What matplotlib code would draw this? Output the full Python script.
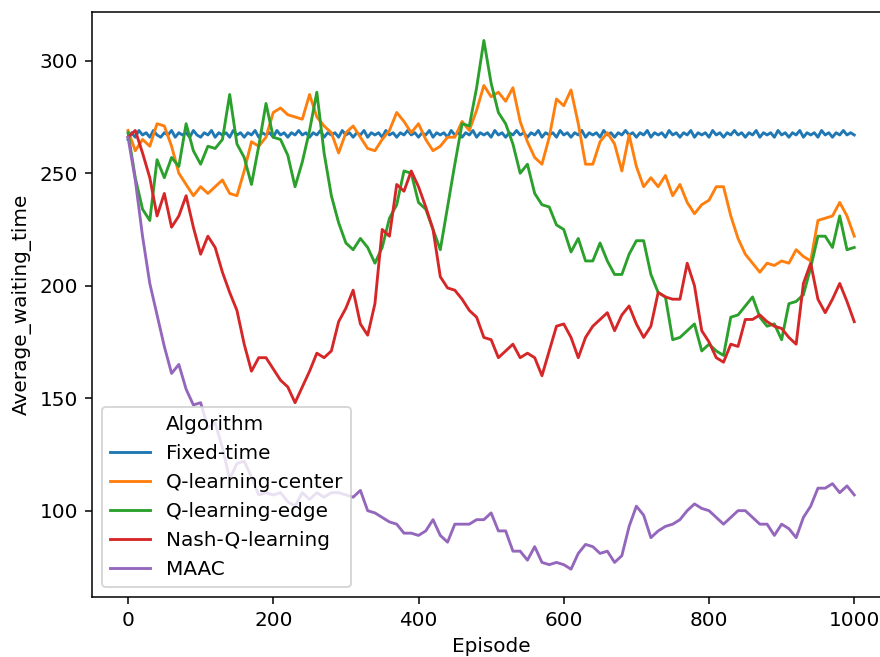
"""Average waiting time per episode for five signal-control algorithms."""
import numpy as np
import matplotlib
matplotlib.use("Agg")
import matplotlib.pyplot as plt
from matplotlib.lines import Line2D

plt.rcParams["font.size"] = 10.5

# values every 10 episodes (every 5 for the flat one)
episodes = list(range(0, 1001, 10))
episodes_fixed = list(range(0, 1001, 5))

fixed_time = [
    265, 268, 266, 269, 267, 268, 266, 269, 267, 266, 268, 267, 269, 266, 268, 267, 268, 266, 269, 267,
    266, 268, 267, 269, 266, 268, 267, 268, 266, 269, 267, 268, 266, 268, 267, 269, 266, 268, 267, 268,
    266, 269, 267, 268, 266, 268, 267, 269, 267, 268, 266, 268, 267, 269, 266, 268, 267, 268, 266, 269,
    267, 268, 266, 268, 267, 269, 266, 268, 267, 268, 266, 269, 267, 268, 266, 268, 267, 269, 267, 268,
    266, 268, 267, 269, 266, 268, 267, 268, 266, 269, 267, 268, 266, 268, 267, 269, 266, 268, 267, 268,
    266, 269, 267, 268, 266, 268, 267, 269, 267, 268, 266, 268, 267, 269, 266, 268, 267, 268, 266, 269,
    267, 268, 266, 268, 267, 269, 266, 268, 267, 268, 266, 269, 267, 268, 266, 268, 267, 269, 267, 268,
    266, 268, 267, 269, 266, 268, 267, 268, 266, 269, 267, 268, 266, 268, 267, 269, 266, 268, 267, 268,
    266, 269, 267, 268, 266, 268, 267, 269, 267, 268, 266, 268, 267, 269, 266, 268, 267, 268, 266, 269,
    267, 268, 266, 268, 267, 269, 266, 268, 267, 268, 266, 269, 267, 268, 266, 268, 267, 269, 267, 268,
    267,
]
q_center = [
    269, 260, 265, 262, 272, 271, 262, 250, 245, 240,
    244, 241, 244, 247, 241, 240, 251, 264, 262, 266,
    277, 279, 276, 275, 274, 285, 275, 271, 268, 259,
    268, 271, 266, 261, 260, 265, 269, 277, 273, 268,
    272, 265, 260, 262, 266, 266, 273, 269, 278, 289,
    284, 286, 282, 288, 273, 264, 257, 254, 266, 283,
    280, 287, 272, 254, 254, 264, 268, 263, 251, 267,
    253, 244, 248, 244, 249, 240, 245, 237, 232, 236,
    238, 244, 244, 231, 221, 214, 210, 206, 210, 209,
    211, 210, 216, 213, 211, 229, 230, 231, 237, 231,
    222,
]
q_edge = [
    268, 248, 234, 229, 256, 248, 257, 253, 272, 260,
    254, 262, 261, 265, 285, 263, 257, 245, 262, 281,
    266, 265, 258, 244, 255, 269, 286, 259, 240, 228,
    219, 216, 221, 217, 210, 217, 230, 236, 251, 250,
    237, 234, 225, 216, 235, 254, 272, 271, 288, 309,
    290, 277, 272, 263, 250, 254, 241, 236, 235, 227,
    225, 215, 221, 211, 211, 219, 211, 205, 205, 214,
    220, 220, 205, 197, 195, 176, 177, 180, 183, 171,
    174, 171, 169, 186, 187, 191, 195, 186, 182, 183,
    176, 192, 193, 196, 208, 222, 222, 217, 231, 216,
    217,
]
nash_q = [
    266, 269, 259, 248, 231, 241, 226, 231, 240, 226,
    214, 222, 217, 206, 197, 189, 174, 162, 168, 168,
    163, 158, 155, 148, 155, 162, 170, 168, 171, 184,
    190, 198, 183, 178, 192, 225, 222, 245, 242, 251,
    244, 235, 225, 204, 199, 198, 194, 189, 186, 177,
    176, 168, 171, 174, 168, 170, 168, 160, 171, 182,
    183, 177, 168, 177, 182, 185, 188, 180, 187, 191,
    183, 177, 182, 197, 195, 194, 194, 210, 200, 180,
    175, 168, 166, 174, 173, 185, 185, 187, 184, 182,
    181, 177, 174, 201, 210, 194, 188, 194, 201, 193,
    184,
]
maac = [
    266, 247, 222, 201, 187, 173, 161, 165, 154, 147,
    148, 137, 139, 128, 114, 121, 122, 115, 107, 108,
    107, 108, 104, 102, 108, 105, 108, 106, 108, 108,
    107, 106, 109, 100, 99, 97, 95, 94, 90, 90,
    89, 91, 96, 89, 86, 94, 94, 94, 96, 96,
    99, 91, 91, 82, 82, 78, 84, 77, 76, 77,
    76, 74, 81, 85, 84, 81, 82, 77, 80, 93,
    102, 98, 88, 91, 93, 94, 96, 100, 103, 101,
    100, 97, 94, 97, 100, 100, 97, 94, 94, 89,
    94, 92, 88, 97, 102, 110, 110, 112, 108, 111,
    107,
]

labels = ["Fixed-time", "Q-learning-center", "Q-learning-edge",
          "Nash-Q-learning", "MAAC"]
colors = ["#1f77b4", "#ff7f0e", "#2ca02c", "#d62728", "#9467bd"]


def main():
    fig = plt.figure(figsize=(6.4, 657 / 137.5), dpi=137.5)
    # the reference is cropped on the right, so the axes run past the edge
    ax = fig.add_axes([0.1042, 0.0909, 0.9078, 0.8913])
    xs = [episodes_fixed] + [episodes] * 4
    ys = [fixed_time, q_center, q_edge, nash_q, maac]
    for x, y, name, c in zip(xs, ys, labels, colors):
        ax.plot(np.array(x), np.array(y), color=c, lw=1.5, label=name)

    ax.set_xlim(-50, 1050)
    ax.set_ylim(61.5, 321.8)
    ax.set_xlabel("Episode")
    ax.set_ylabel("Average_waiting_time")
    ax.set_xticks([0, 200, 400, 600, 800, 1000])
    ax.set_yticks([100, 150, 200, 250, 300])

    # seaborn-style legend: the hue name sits in the list as a handle-less row
    handles, names = ax.get_legend_handles_labels()
    title = Line2D([], [], color="none")
    ax.legend([title] + handles, ["Algorithm"] + names, loc="lower left")

    fig.savefig("out.png", dpi=137.5)


if __name__ == "__main__":
    main()
